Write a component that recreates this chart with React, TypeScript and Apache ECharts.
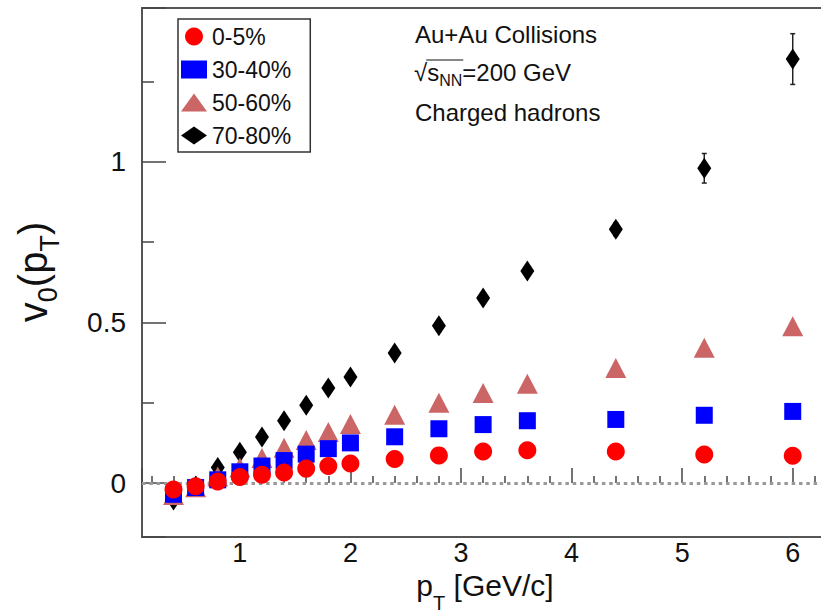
import React, { useEffect, useRef } from "react";
import * as echarts from "echarts";

// transverse momentum bins (GeV/c)
const pT = [0.4, 0.6, 0.8, 1.0, 1.2, 1.4, 1.6, 1.8, 2.0, 2.4, 2.8, 3.2, 3.6, 4.4, 5.2, 6.0];

// v0(pT) per centrality class
const v0_0_5 = [-0.02, -0.01, 0.005, 0.019, 0.026, 0.033, 0.045, 0.053, 0.061, 0.075, 0.086, 0.098, 0.102, 0.098, 0.089, 0.085];
const v0_30_40 = [-0.035, -0.014, 0.01, 0.035, 0.053, 0.07, 0.09, 0.107, 0.125, 0.144, 0.169, 0.182, 0.194, 0.198, 0.211, 0.223];
const v0_50_60 = [-0.037, -0.013, 0.02, 0.048, 0.078, 0.11, 0.134, 0.159, 0.184, 0.213, 0.25, 0.28, 0.309, 0.358, 0.421, 0.488];
const v0_70_80 = [-0.053, -0.01, 0.048, 0.096, 0.143, 0.194, 0.242, 0.296, 0.33, 0.405, 0.49, 0.576, 0.66, 0.79, 0.98, 1.32];
const err_70_80 = [0.004, 0.004, 0.004, 0.004, 0.005, 0.005, 0.005, 0.006, 0.007, 0.008, 0.01, 0.012, 0.014, 0.02, 0.046, 0.079];

const legendNames = ["0-5%", "30-40%", "50-60%", "70-80%"];
const legendIcons = ["circle", "rect", "triangle", "diamond"];

const annotationLines = ["Au+Au Collisions", "=200 GeV", "Charged hadrons"];

const FAMILY = "'Liberation Sans', Arial, Helvetica, sans-serif";

type Tok = { t: string; s: number; dy?: number };

function measure(text: string, size: number): number {
  const c = document.createElement("canvas").getContext("2d");
  if (!c) return text.length * size * 0.55;
  c.font = `${size}px 'Liberation Sans', Arial, sans-serif`;
  return c.measureText(text).width;
}

// lay out a run of text pieces along a baseline (local coords)
function runElements(toks: Tok[], x0: number, baseline: number) {
  const els: any[] = [];
  let x = x0;
  const stops: number[] = [];
  toks.forEach((k) => {
    stops.push(x);
    els.push({
      type: "text",
      x,
      y: baseline + (k.dy || 0) - 0.35 * k.s,
      style: {
        text: k.t,
        fontSize: k.s,
        fontFamily: FAMILY,
        fill: "#111",
        align: "left",
        verticalAlign: "middle",
      },
    });
    x += measure(k.t, k.s);
  });
  stops.push(x);
  return { els, width: x - x0, stops };
}

export default function App() {
  const ref = useRef<HTMLDivElement>(null);

  useEffect(() => {
    if (!ref.current) return;
    const chart = echarts.init(ref.current, undefined, { renderer: "svg" });

    const pts = (ys: number[]) => pT.map((x, i) => [x, ys[i]]);

    // axis titles
    const yTitleToks: Tok[] = [
      { t: "v", s: 40 },
      { t: "0", s: 27, dy: 10 },
      { t: "(p", s: 40 },
      { t: "T", s: 27, dy: 12 },
      { t: ")", s: 40 },
    ];
    const yW = runElements(yTitleToks, 0, 0).width;
    const yTitle = runElements(yTitleToks, -yW / 2, 0);

    const xTitleToks: Tok[] = [
      { t: "p", s: 30 },
      { t: "T", s: 20, dy: 14 },
      { t: " [GeV/c]", s: 30 },
    ];
    const xW = runElements(xTitleToks, 0, 0).width;
    const xTitle = runElements(xTitleToks, 485 - xW / 2, 596);

    const line1 = runElements([{ t: annotationLines[0], s: 24 }], 415, 43);
    const line2 = runElements(
      [
        { t: "√", s: 24 },
        { t: "s", s: 24 },
        { t: "NN", s: 16, dy: 5 },
        { t: annotationLines[1], s: 24 },
      ],
      414,
      81
    );
    const line3 = runElements([{ t: annotationLines[2], s: 24 }], 415, 121);

    const option: any = {
      animation: false,
      backgroundColor: "#ffffff",
      grid: {
        left: 142,
        top: 8,
        right: 5,
        bottom: 78,
        show: true,
        borderColor: "#555",
        borderWidth: 2,
        backgroundColor: "transparent",
      },
      legend: {
        data: legendNames.map((n, i) => ({ name: n, icon: legendIcons[i] })),
        orient: "vertical",
        left: 178,
        top: 19,
        itemWidth: 26,
        itemHeight: 18,
        itemGap: 10,
        padding: [6, 19, 5, 3],
        borderColor: "#333",
        borderWidth: 1.5,
        backgroundColor: "#fff",
        textStyle: { fontSize: 23, fontFamily: FAMILY, color: "#111" },
      },
      xAxis: {
        type: "value",
        min: 0.115,
        max: 6.31,
        minInterval: 1,
        maxInterval: 1,
        axisLine: { show: false },
        splitLine: { show: false },
        axisTick: { show: true, inside: true, length: 15, lineStyle: { color: "#444", width: 1.5 } },
        minorTick: { show: true, splitNumber: 5, length: 7, lineStyle: { color: "#444", width: 1.5 } },
        axisLabel: {
          showMinLabel: false,
          showMaxLabel: false,
          fontSize: 27,
          fontFamily: FAMILY,
          color: "#111",
          margin: 2,
        },
      },
      yAxis: {
        type: "value",
        min: -0.168,
        max: 1.479,
        minInterval: 0.5,
        maxInterval: 0.5,
        splitNumber: 3,
        axisLine: { show: false },
        splitLine: { show: false },
        axisTick: { show: true, inside: true, length: 24, lineStyle: { color: "#444", width: 1.5 } },
        minorTick: { show: true, splitNumber: 2, length: 12, lineStyle: { color: "#444", width: 1.5 } },
        axisLabel: {
          showMinLabel: false,
          showMaxLabel: false,
          fontSize: 28,
          fontFamily: FAMILY,
          color: "#111",
          margin: 16,
        },
      },
      series: [
        {
          name: "err70-80",
          type: "custom",
          z: 2,
          data: pT.map((x, i) => [x, v0_70_80[i], err_70_80[i]]),
          renderItem: (params: any, api: any) => {
            const x = api.value(0);
            const y = api.value(1);
            const e = api.value(2);
            const lo = api.coord([x, y - e]);
            const hi = api.coord([x, y + e]);
            const cap = 2.5;
            const st = { stroke: "#222", lineWidth: 1.5 };
            return {
              type: "group",
              children: [
                { type: "line", shape: { x1: lo[0], y1: lo[1], x2: hi[0], y2: hi[1] }, style: st },
                { type: "line", shape: { x1: lo[0] - cap, y1: lo[1], x2: lo[0] + cap, y2: lo[1] }, style: st },
                { type: "line", shape: { x1: hi[0] - cap, y1: hi[1], x2: hi[0] + cap, y2: hi[1] }, style: st },
              ],
            };
          },
          markLine: {
            z: 1,
            silent: true,
            symbol: "none",
            label: { show: false },
            lineStyle: { color: "#999", width: 3, type: [3.5, 3.8] },
            data: [{ yAxis: 0 }],
          },
        },
        {
          name: "70-80%",
          type: "scatter",
          z: 3,
          symbol: "diamond",
          symbolSize: [14, 21],
          itemStyle: { color: "#000000", opacity: 1 },
          data: pts(v0_70_80),
        },
        {
          name: "50-60%",
          type: "scatter",
          z: 3,
          symbol: "triangle",
          symbolSize: [21, 20],
          itemStyle: { color: "#cc6666", opacity: 1 },
          data: pts(v0_50_60),
        },
        {
          name: "30-40%",
          type: "scatter",
          z: 3,
          symbol: "rect",
          symbolSize: 17,
          itemStyle: { color: "#0000ff", opacity: 1 },
          data: pts(v0_30_40),
        },
        {
          name: "0-5%",
          type: "scatter",
          z: 3,
          symbol: "circle",
          symbolSize: 18,
          itemStyle: { color: "#ff0000", opacity: 1 },
          data: pts(v0_0_5),
        },
      ],
      graphic: [
        ...line1.els,
        ...line2.els,
        {
          type: "line",
          shape: { x1: line2.stops[1] - 1, y1: 60, x2: line2.stops[3] + 1, y2: 60 },
          style: { stroke: "#111", lineWidth: 1.2 },
        },
        ...line3.els,
        ...xTitle.els,
        {
          type: "group",
          x: 47,
          y: 272,
          rotation: Math.PI / 2,
          children: yTitle.els,
        },
      ],
    };

    chart.setOption(option);
    return () => chart.dispose();
  }, []);

  return (
    <div
      style={{
        position: "fixed",
        left: 0,
        top: 0,
        width: 821,
        height: 615,
        overflow: "hidden",
        background: "#fff",
      }}
    >
      <div ref={ref} style={{ width: 832, height: 615 }} />
    </div>
  );
}
